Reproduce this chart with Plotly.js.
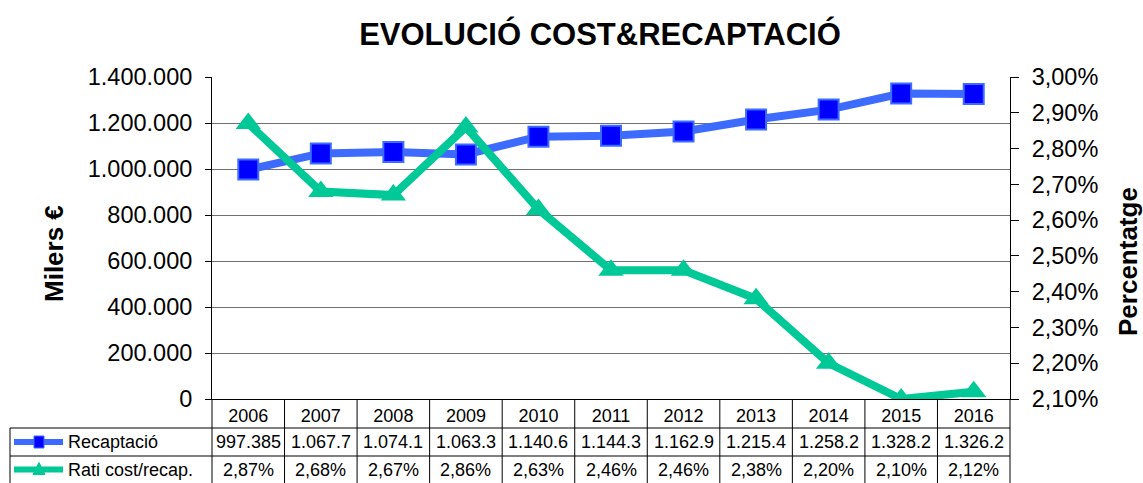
<!DOCTYPE html>
<html><head><meta charset="utf-8">
<script src="https://cdn.plot.ly/plotly-3.0.1.min.js"></script>
<style>html,body{margin:0;padding:0;background:#fff;}#chart{width:1143px;height:483px;}</style>
</head><body><div id="chart"></div>
<script>
const years = ['2006','2007','2008','2009','2010','2011','2012','2013','2014','2015','2016'];
const recaptacio = [997385, 1067700, 1074100, 1063300, 1140600, 1144300, 1162900, 1215400, 1258200, 1328200, 1326200];
const ratiCost = [0.0287, 0.0268, 0.0267, 0.0286, 0.0263, 0.0246, 0.0246, 0.0238, 0.0220, 0.0210, 0.0212];
const seriesNames = ['Recaptació', 'Rati cost/recap.'];

const W = 1143, H = 483;
const L = 212, R = 1010, T = 77, B = 399;
const pw = R - L, ph = B - T;
const px = v => (v - L) / pw;
const py = v => (B - v) / ph;
const FONT = 'Liberation Sans, Arial, sans-serif';
const blueLine = '#3d6bff', blueFill = '#0000ff', green = '#00c896';

const xs = years.map((_, i) => i);

const fmtThousands = v => String(v).replace(/\B(?=(\d{3})+(?!\d))/g, '.');
const cellRecap = recaptacio.map(v => fmtThousands(v).slice(0, 7));
const cellRati = ratiCost.map(v => (v * 100).toFixed(2).replace('.', ',') + '%');

const traces = [
  {x: xs, y: recaptacio, type: 'scatter', mode: 'lines+markers', name: seriesNames[0],
   line: {color: blueLine, width: 8},
   marker: {symbol: 'square', size: 20, color: blueFill, line: {color: blueLine, width: 2}},
   yaxis: 'y'},
  {x: xs, y: ratiCost, type: 'scatter', mode: 'lines+markers', name: seriesNames[1],
   line: {color: green, width: 8},
   marker: {symbol: 'triangle-up', size: 22, color: green},
   yaxis: 'y2'}
];

const shapes = [];
const line = (x0, y0, x1, y1, c) => shapes.push({type: 'line', xref: 'paper', yref: 'paper',
  x0: px(x0), y0: py(y0), x1: px(x1), y1: py(y1), line: {color: c || '#000', width: 1}});
const rowY = [428, 456, 483];
const colW = pw / years.length;
for (let i = 0; i <= years.length; i++) line(L + i * colW, B, L + i * colW, H + 2);
line(10, rowY[0], R, rowY[0]);
line(10, rowY[1], R, rowY[1]);
line(10, rowY[0], 10, H + 2);

// legend keys in the table
const k1 = (rowY[0] + rowY[1]) / 2, k2 = (rowY[1] + rowY[2]) / 2;
shapes.push({type: 'line', xref: 'paper', yref: 'paper', x0: px(14), x1: px(63), y0: py(k1), y1: py(k1), line: {color: blueLine, width: 6}});
shapes.push({type: 'rect', xref: 'paper', yref: 'paper', x0: px(34), x1: px(44), y0: py(k1 - 6), y1: py(k1 + 6), fillcolor: blueFill, line: {color: blueLine, width: 1}});
shapes.push({type: 'line', xref: 'paper', yref: 'paper', x0: px(14), x1: px(63), y0: py(k2), y1: py(k2), line: {color: green, width: 6}});
shapes.push({type: 'path', xref: 'paper', yref: 'paper',
  path: `M ${px(33)} ${py(k2 + 5)} L ${px(45)} ${py(k2 + 5)} L ${px(39)} ${py(k2 - 7)} Z`,
  fillcolor: green, line: {color: green, width: 1}});

const annotations = [];
const tfont = {family: FONT, size: 18, color: '#000'};
years.forEach((y, i) => {
  annotations.push({xref: 'x', yref: 'paper', x: i, y: py(k1), text: cellRecap[i], showarrow: false, font: tfont, xanchor: 'center', yanchor: 'middle'});
  annotations.push({xref: 'x', yref: 'paper', x: i, y: py(k2), text: cellRati[i], showarrow: false, font: tfont, xanchor: 'center', yanchor: 'middle'});
});
annotations.push({xref: 'paper', yref: 'paper', x: px(66), y: py(k1), text: seriesNames[0], showarrow: false, font: tfont, xanchor: 'left', yanchor: 'middle'});
annotations.push({xref: 'paper', yref: 'paper', x: px(66), y: py(k2), text: seriesNames[1], showarrow: false, font: tfont, xanchor: 'left', yanchor: 'middle'});
annotations.push({xref: 'paper', yref: 'paper', x: px(54), y: py(254), text: '<b>Milers €</b>', textangle: -90, showarrow: false, font: {family: FONT, size: 26, color: '#000'}, xanchor: 'center', yanchor: 'middle'});
annotations.push({xref: 'paper', yref: 'paper', x: px(1128), y: py(262), text: '<b>Percentatge</b>', textangle: -90, showarrow: false, font: {family: FONT, size: 26, color: '#000'}, xanchor: 'center', yanchor: 'middle'});

const layout = {
  width: W, height: H,
  margin: {l: L, r: W - R, t: T, b: H - B, pad: 0},
  paper_bgcolor: '#fff', plot_bgcolor: '#fff',
  separators: ',.',
  showlegend: false,
  title: {text: '<b>EVOLUCIÓ COST&RECAPTACIÓ</b>', x: 600 / W, xanchor: 'center', y: 1 - 34 / H, yanchor: 'middle',
          font: {family: FONT, size: 31, color: '#000'}},
  xaxis: {range: [-0.5, 10.5], tickvals: xs, ticktext: years, ticks: '', showgrid: false, zeroline: false,
          showline: true, linecolor: '#000', linewidth: 1, tickfont: {family: FONT, size: 18, color: '#000'}, fixedrange: true},
  yaxis: {range: [0, 1400000], dtick: 200000, tickformat: ',d', showgrid: true, gridcolor: '#707070', gridwidth: 1,
          zeroline: false, showline: true, linecolor: '#000', linewidth: 1, ticks: 'outside', ticklen: 6, tickcolor: '#000',
          tickfont: {family: FONT, size: 23.5, color: '#000'}, ticklabelstandoff: 8, fixedrange: true},
  yaxis2: {range: [0.021, 0.030], dtick: 0.001, tickformat: '.2%', overlaying: 'y', side: 'right', showgrid: false,
           zeroline: false, showline: true, linecolor: '#000', linewidth: 1, ticks: 'outside', ticklen: 8, tickcolor: '#000',
           tickfont: {family: FONT, size: 23.5, color: '#000'}, ticklabelstandoff: 8, fixedrange: true},
  shapes: shapes,
  annotations: annotations
};

Plotly.newPlot('chart', traces, layout, {displayModeBar: false, staticPlot: true});
</script></body></html>
